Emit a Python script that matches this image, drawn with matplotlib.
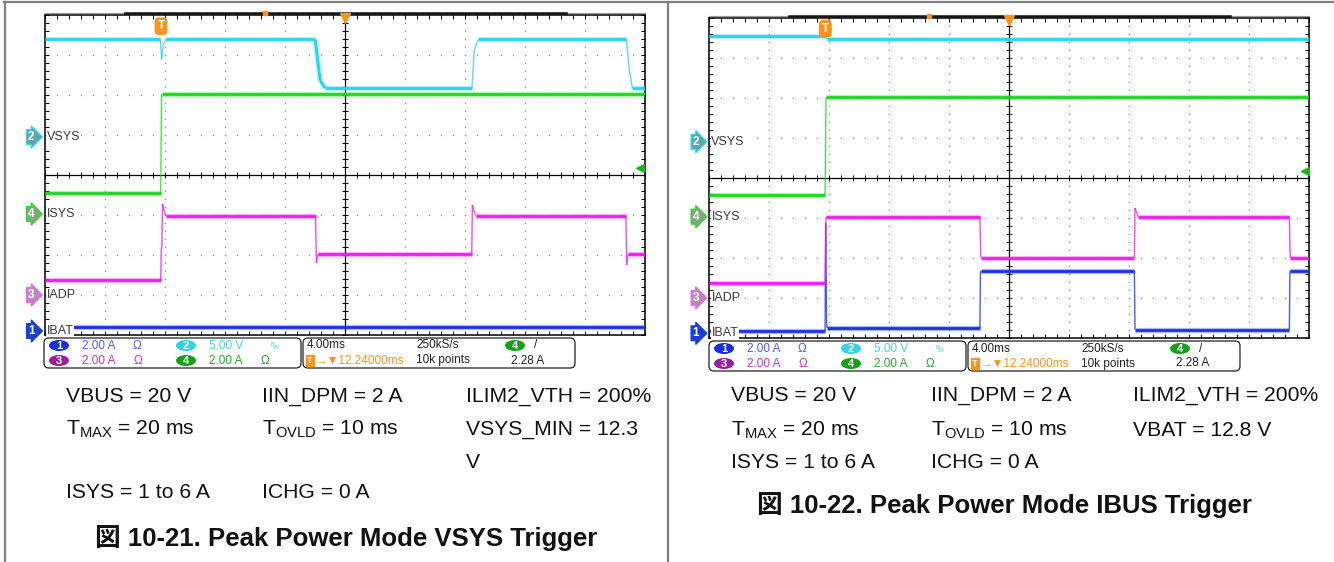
import numpy as np
import matplotlib
matplotlib.use('Agg')
import matplotlib.pyplot as plt
from matplotlib.collections import LineCollection
from matplotlib.patches import FancyBboxPatch, Ellipse
from matplotlib.lines import Line2D

plt.rcParams['font.family'] = ['Liberation Sans', 'Noto Sans CJK JP', 'DejaVu Sans']
plt.rcParams['mathtext.default'] = 'regular'

W, H = 1334, 562

# scope setup shared by both captures
ms_per_div = 4.0
trig_delay = 12.24                              # ms, trigger to screen centre
ch_scale = {1: 2.0, 2: 5.0, 3: 2.0, 4: 2.0}     # A/div or V/div
trig_level = 2.28                               # A on ch4, rising edge
ch_names = {1: 'IBAT', 2: 'VSYS', 3: 'IADP', 4: 'ISYS'}

# ---- Figure 10-21: VSYS trigger ----
gnd_21 = {1: -3.9, 2: 0.95, 3: -3.0, 4: -0.975}   # ground markers (div)
vsys_21_t = [-7.76, -0.05, 0.05, 0.15, 0.35, 10.27, 10.6, 10.93, 20.71, 20.87,
             21.13, 31.0, 31.2, 31.4, 32.24]
vsys_21_v = [12.2, 12.2, 9.7, 11.6, 12.2, 12.2, 7.1, 6.1, 6.1, 10.9,
             12.2, 12.2, 8.4, 6.1, 6.1]
isys_21_t = [-7.76, -0.02, 0.04, 32.24]
isys_21_v = [1.07, 1.07, 6.0, 6.0]
iadp_21_t = [-7.76, -0.02, 0.02, 0.06, 0.1, 0.3, 10.3, 10.35, 10.45, 20.7,
             20.74, 20.95, 30.97, 31.02, 31.12, 32.24]
iadp_21_v = [0.75, 0.75, 2.3, 2.4, 4.55, 3.97, 3.97, 1.6, 2.05, 2.05,
             4.5, 3.97, 3.97, 1.5, 2.05, 2.05]
ibat_21_t = [-7.76, 32.24]
ibat_21_v = [0.21, 0.21]

# ---- Figure 10-22: IBUS trigger ----
gnd_22 = {1: -3.895, 2: 0.895, 3: -3.01, 4: -0.98}
vsys_22_t = [-7.76, -0.05, 0.1, 32.24]
vsys_22_v = [13.2, 13.2, 12.8, 12.8]
isys_22_t = [-7.76, -0.02, 0.04, 32.24]
isys_22_v = [1.08, 1.08, 5.97, 5.97]
iadp_22_t = [-7.76, -0.02, 0.04, 10.3, 10.36, 20.6, 20.64, 20.85, 30.93,
             30.99, 32.24]
iadp_22_v = [0.74, 0.74, 4.06, 4.06, 2.02, 2.02, 4.5, 4.06, 4.06,
             2.02, 2.02]
ibat_22_t = [-7.76, -0.02, 0.02, 0.08, 0.12, 10.3, 10.34, 20.6, 20.64,
             30.93, 30.97, 32.24]
ibat_22_v = [0.12, 0.12, 5.5, 0.5, 0.27, 0.27, 3.12, 3.12, 0.19,
             0.19, 3.12, 3.12]

# readout strings
ch_readout = {1: '2.00 A', 2: '5.00 V', 3: '2.00 A', 4: '2.00 A'}
timebase = '4.00ms'
delay_txt = '12.24000ms'
sample_rate = '250kS/s'
record_len = '10k points'

# conditions printed under each capture
cond_21 = [['VBUS = 20 V', 'IIN_DPM = 2 A', 'ILIM2_VTH = 200%'],
           ['T$_{MAX}$ = 20 ms', 'T$_{OVLD}$ = 10 ms', 'VSYS_MIN = 12.3'],
           ['', '', 'V'],
           ['ISYS = 1 to 6 A', 'ICHG = 0 A', '']]
cond_22 = [['VBUS = 20 V', 'IIN_DPM = 2 A', 'ILIM2_VTH = 200%'],
           ['T$_{MAX}$ = 20 ms', 'T$_{OVLD}$ = 10 ms', 'VBAT = 12.8 V'],
           ['ISYS = 1 to 6 A', 'ICHG = 0 A', '']]
title_21 = '図 10-21. Peak Power Mode VSYS Trigger'
title_22 = '図 10-22. Peak Power Mode IBUS Trigger'

trace_color = {1: '#1a33e6', 2: '#2ad4ec', 3: '#ee1fee', 4: '#1ed81e'}
text_color = {1: '#4a5cf0', 2: '#3cd6e8', 3: '#c533c5', 4: '#26a626'}
badge_color = {1: '#1530d8', 2: '#30d4e6', 3: '#9c1f9c', 4: '#17a017'}
tag_face = {1: '#1b3fd6', 2: '#5ea6ae', 3: '#b68cb6', 4: '#7eaa7e'}
tag_edge = {1: '#1b3fd6', 2: '#30d8ea', 3: '#ee66ee', 4: '#30d030'}
orange = '#f7941d'


def px_to_fig(x, y):
    return x / W, 1 - y / H


def draw_trace(ax, t, v, ch, gnd):
    t = np.asarray(t, float)
    y = gnd[ch] + np.asarray(v, float) / ch_scale[ch]
    pts = np.column_stack([t, y])
    segs = np.stack([pts[:-1], pts[1:]], axis=1)
    flat = np.diff(t) > 0.3
    col = trace_color[ch]
    # thin edges, then thick noisy-looking plateaus on top
    ax.add_collection(LineCollection(segs[~flat], colors=col, linewidths=1.0,
                                     alpha=0.8, zorder=4 + ch))
    ax.add_collection(LineCollection(segs[flat], colors=col, linewidths=3.8,
                                     alpha=0.35, zorder=4 + ch))
    ax.add_collection(LineCollection(segs[flat], colors=col, linewidths=2.0,
                                     zorder=4 + ch))


def draw_scope(rect, traces, gnd):
    ax = fig.add_axes(rect)
    t0 = trig_delay - 5 * ms_per_div
    t1 = trig_delay + 5 * ms_per_div
    ax.set_xlim(t0, t1)
    ax.set_ylim(-4, 4)

    minor_x = t0 + np.arange(0, 50.5) * ms_per_div / 5
    minor_y = np.arange(-20, 20.5) / 5
    ax.set_xticks(minor_x)
    ax.set_yticks(minor_y)
    ax.tick_params(direction='in', length=3, width=0.7, top=True, right=True,
                   labelbottom=False, labelleft=False)
    for s in ax.spines.values():
        s.set_linewidth(1.1)

    # dotted graticule
    for i in range(1, 10):
        if i == 5:
            continue
        ax.plot(np.full(minor_y.size, t0 + i * ms_per_div), minor_y, ls='',
                marker='s', ms=0.9, mew=0, color='#8a8a8a', zorder=1)
    for j in [-3, -2, -1, 1, 2, 3]:
        ax.plot(minor_x, np.full(minor_x.size, j), ls='', marker='s', ms=0.9,
                mew=0, color='#8a8a8a', zorder=1)

    # centre cross with tick marks
    ax.axvline(trig_delay, color='k', lw=0.9, zorder=2)
    ax.axhline(0, color='k', lw=0.9, zorder=2)
    ax.plot(minor_x, np.zeros(minor_x.size), ls='', marker='|', ms=5,
            mew=0.7, color='k', zorder=2)
    ax.plot(np.full(minor_y.size, trig_delay), minor_y, ls='', marker='_',
            ms=5, mew=0.7, color='k', zorder=2)

    for ch, t, v in traces:
        draw_trace(ax, t, v, ch, gnd)

    # record bar along the top edge
    ax.plot([t0, t1], [4.04, 4.04], color='#9a9a9a', lw=0.8, clip_on=False,
            zorder=9)
    ax.plot([-2.4, 27.0], [4.04, 4.04], color='#111111', lw=1.8,
            clip_on=False, zorder=9)
    ax.plot([6.9], [4.05], ls='', marker='s', ms=3.5, color=orange,
            clip_on=False, zorder=10)
    ax.plot([trig_delay], [3.93], ls='', marker='v', ms=7, color=orange,
            clip_on=False, zorder=10)

    # trigger position marker
    ax.text(0, 3.72, 'T', color='white', fontsize=8.5, fontweight='bold',
            ha='center', va='center', zorder=12,
            bbox=dict(boxstyle='round,pad=0.18,rounding_size=0.3', fc=orange,
                      ec=orange))
    # trigger level marker on ch4
    ax.plot([t1 - 0.3], [gnd[4] + trig_level / ch_scale[4]], ls='', marker='<',
            ms=6, color='#17b817', zorder=12)

    # channel ground tags on the left edge
    ytr = ax.get_yaxis_transform()
    for ch in (2, 4, 3, 1):
        ax.text(-0.022, gnd[ch], str(ch), transform=ytr, ha='center',
                va='center', fontsize=8.5, fontweight='bold', color='white',
                clip_on=False, zorder=12,
                bbox=dict(boxstyle='rarrow,pad=0.12', fc=tag_face[ch],
                          ec=tag_edge[ch], lw=0.9))
        ax.text(0.004, gnd[ch], ch_names[ch], transform=ytr, ha='left',
                va='center', fontsize=9, color='#3a3a3a', zorder=11,
                bbox=dict(boxstyle='square,pad=0.05', fc='white', ec='none'))
    return ax


def draw_readout(left, top):
    w, h = 540, 34
    x0, y0 = px_to_fig(left - 2, top - 2 + h)
    rax = fig.add_axes([x0, y0, w / W, h / H])
    rax.set_xlim(-2, w - 2)
    rax.set_ylim(h - 2, -2)
    rax.axis('off')
    for bx, bw in [(0, 257), (259, 272)]:
        rax.add_patch(FancyBboxPatch((bx, 0), bw, 30,
                                     boxstyle='round,pad=0,rounding_size=5',
                                     fc='none', ec='#222222', lw=0.9))
    rows = {1: 7.5, 2: 7.5, 3: 22.5, 4: 22.5}
    cols = {1: 0, 3: 0, 2: 127, 4: 127}
    for ch in (1, 2, 3, 4):
        cx, cy = cols[ch], rows[ch]
        rax.add_patch(Ellipse((cx + 15, cy), 20, 11, fc=badge_color[ch],
                              ec='none'))
        rax.text(cx + 15, cy + 0.5, str(ch), color='white', fontsize=8,
                 fontweight='bold', ha='center', va='center')
        rax.text(cx + 38, cy + 0.5, ch_readout[ch], color=text_color[ch],
                 fontsize=8.5, ha='left', va='center')
        if ch == 2:
            rax.text(cx + 102, cy - 1, 'B', color=text_color[ch], fontsize=4.5,
                     ha='center', va='center')
            rax.text(cx + 105, cy + 2, 'W', color=text_color[ch], fontsize=4.5,
                     ha='center', va='center')
        else:
            rax.text(cx + 93 + (1 if ch > 2 else 0), cy + 0.5, 'Ω',
                     color=text_color[ch], fontsize=8.5, ha='center',
                     va='center')
    bx = 259
    rax.text(bx + 4, 7.5, timebase, fontsize=8.5, ha='left', va='center',
             color='#222222')
    rax.text(bx + 4, 22.5, 'T', color='white', fontsize=6.5,
             fontweight='bold', ha='left', va='center',
             bbox=dict(boxstyle='square,pad=0.15', fc=orange, ec=orange))
    rax.text(bx + 13, 22.5, '→▼' + delay_txt, color=orange, fontsize=8.5,
             ha='left', va='center')
    rax.text(bx + 113, 7.5, sample_rate, fontsize=8.5, ha='left', va='center',
             color='#222222')
    rax.text(bx + 113, 22.5, record_len, fontsize=8.5, ha='left',
             va='center', color='#222222')
    rax.add_patch(Ellipse((bx + 212, 7.5), 20, 11, fc=badge_color[4],
                          ec='none'))
    rax.text(bx + 212, 8, '4', color='white', fontsize=8, fontweight='bold',
             ha='center', va='center')
    rax.text(bx + 233, 7.5, '/', fontsize=8.5, ha='center', va='center',
             color='#222222')
    rax.text(bx + 225, 22.5, '%.2f A' % trig_level, fontsize=8.5,
             ha='center', va='center', color='#222222')


def draw_conditions(rows, cols_x, row_y, title, title_x, title_y):
    for r, y in zip(rows, row_y):
        for s, x in zip(r, cols_x):
            if s:
                fx, fy = px_to_fig(x, y)
                fig.text(fx, fy, s, fontsize=15.2, ha='left', va='center',
                         color='#111111')
    fx, fy = px_to_fig(title_x, title_y)
    fig.text(fx, fy, title, fontsize=18.5, fontweight='bold', ha='center',
             va='center', color='#111111')


fig = plt.figure(figsize=(W / 100, H / 100), dpi=100)

# cell borders
for (xa, ya), (xb, yb) in [((4, 2), (W, 2)), ((4.5, 2), (4.5, H)),
                           ((668, 2), (668, H))]:
    p0, p1 = px_to_fig(xa, ya), px_to_fig(xb, yb)
    fig.add_artist(Line2D([p0[0], p1[0]], [p0[1], p1[1]], color='#808080',
                          lw=1.6))

traces_21 = [(2, vsys_21_t, vsys_21_v), (4, isys_21_t, isys_21_v),
             (3, iadp_21_t, iadp_21_v), (1, ibat_21_t, ibat_21_v)]
traces_22 = [(2, vsys_22_t, vsys_22_v), (4, isys_22_t, isys_22_v),
             (3, iadp_22_t, iadp_22_v), (1, ibat_22_t, ibat_22_v)]

x0, y0 = px_to_fig(44.5, 335)
draw_scope([x0, y0, 600.5 / W, 320 / H], traces_21, gnd_21)
x0, y0 = px_to_fig(709, 337.5)
draw_scope([x0, y0, 600 / W, 320 / H], traces_22, gnd_22)

draw_readout(44, 338)
draw_readout(709, 341)

draw_conditions(cond_21, [66, 262, 466], [397, 429.5, 462, 493], title_21,
                346, 538)
draw_conditions(cond_22, [731, 931, 1133], [395.5, 430, 462], title_22,
                1004, 505)

fig.savefig('out.png', dpi=100)
